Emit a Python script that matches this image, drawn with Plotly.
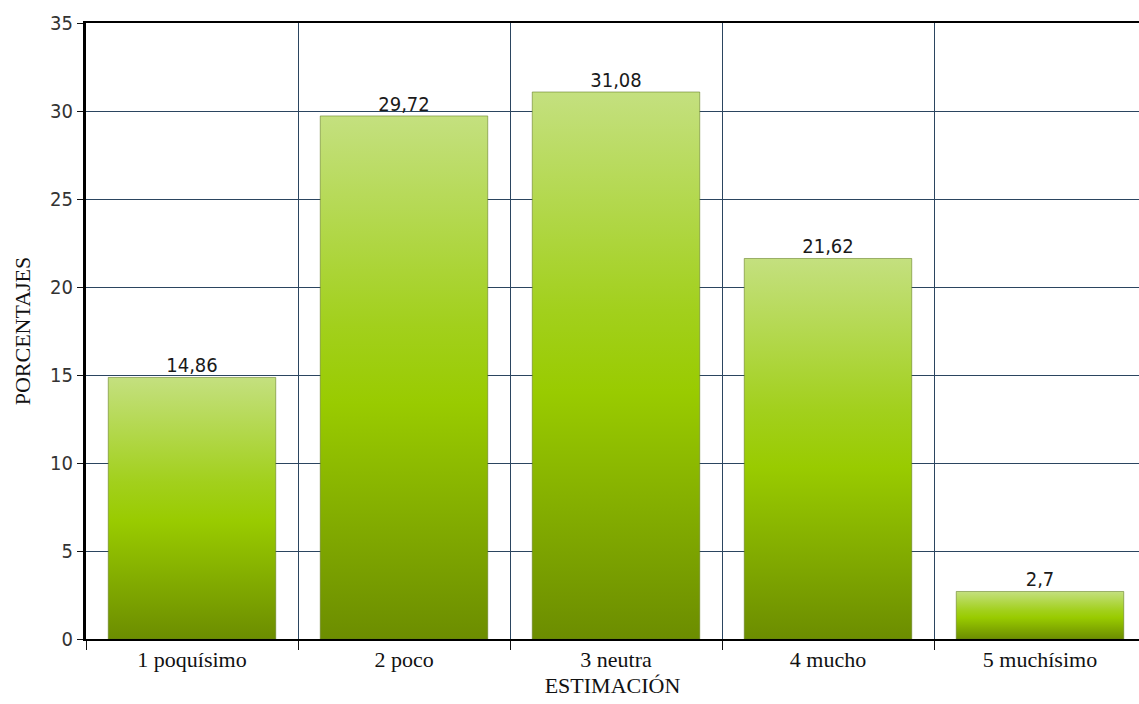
import plotly.graph_objects as go

# Survey results: share of answers per rating level
categorias = ["1 poquísimo", "2 poco", "3 neutra", "4 mucho", "5 muchísimo"]
porcentajes = [14.86, 29.72, 31.08, 21.62, 2.7]
etiquetas = ["14,86", "29,72", "31,08", "21,62", "2,7"]

serif = "Liberation Serif, Times New Roman, serif"
narrow = "Liberation Sans Narrow, DejaVu Sans Condensed, Arial Narrow, sans-serif"
grid = "#2b4560"
half = 0.395  # half bar width in category units

fig = go.Figure()

# Each bar is a filled rectangle so it can carry a vertical gradient
for i, v in enumerate(porcentajes):
    fig.add_trace(go.Scatter(
        x=[i - half, i - half, i + half, i + half, i - half],
        y=[0, v, v, 0, 0],
        mode="lines",
        fill="toself",
        line=dict(color="rgba(95,120,30,0.55)", width=1),
        fillgradient=dict(
            type="vertical",
            start=0,
            stop=v,
            colorscale=[[0, "#6c8d00"], [0.45, "#99cb00"], [0.6, "#a2d01c"], [1, "#c4e07f"]],
        ),
        hoverinfo="skip",
        showlegend=False,
    ))

# Value labels above the bars
fig.add_trace(go.Scatter(
    x=list(range(len(categorias))),
    y=porcentajes,
    mode="text",
    text=etiquetas,
    textposition="top center",
    textfont=dict(family=narrow, size=20, color="#1a1a1a"),
    showlegend=False,
    hoverinfo="skip",
))

fig.update_layout(
    width=1139,
    height=704,
    margin=dict(l=86, r=0, t=23, b=65),
    paper_bgcolor="white",
    plot_bgcolor="white",
    xaxis=dict(
        range=[-0.5, 4.467],
        tickmode="array",
        tickvals=list(range(len(categorias))),
        ticktext=categorias,
        ticks="",
        showgrid=False,
        zeroline=False,
        showline=True,
        linecolor="black",
        linewidth=2,
        mirror=True,
        tickfont=dict(family=serif, size=22, color="#111"),
        title=dict(text="ESTIMACIÓN", font=dict(family=serif, size=22, color="#111"), standoff=6),
        minor=dict(
            tick0=0.5,
            dtick=1,
            showgrid=True,
            gridcolor=grid,
            gridwidth=1,
            ticks="outside",
            ticklen=9,
            tickcolor="#111",
            tickwidth=1,
        ),
    ),
    yaxis=dict(
        range=[0, 35],
        tickvals=[0, 5, 10, 15, 20, 25, 30, 35],
        showgrid=True,
        gridcolor=grid,
        gridwidth=1,
        zeroline=False,
        showline=True,
        linecolor="black",
        linewidth=3,
        ticks="outside",
        ticklen=6,
        tickcolor="#111",
        tickfont=dict(family=narrow, size=20, color="#333"),
        title=dict(text="PORCENTAJES", font=dict(family=serif, size=22, color="#111"), standoff=14),
    ),
)

fig.write_html("out.html")
